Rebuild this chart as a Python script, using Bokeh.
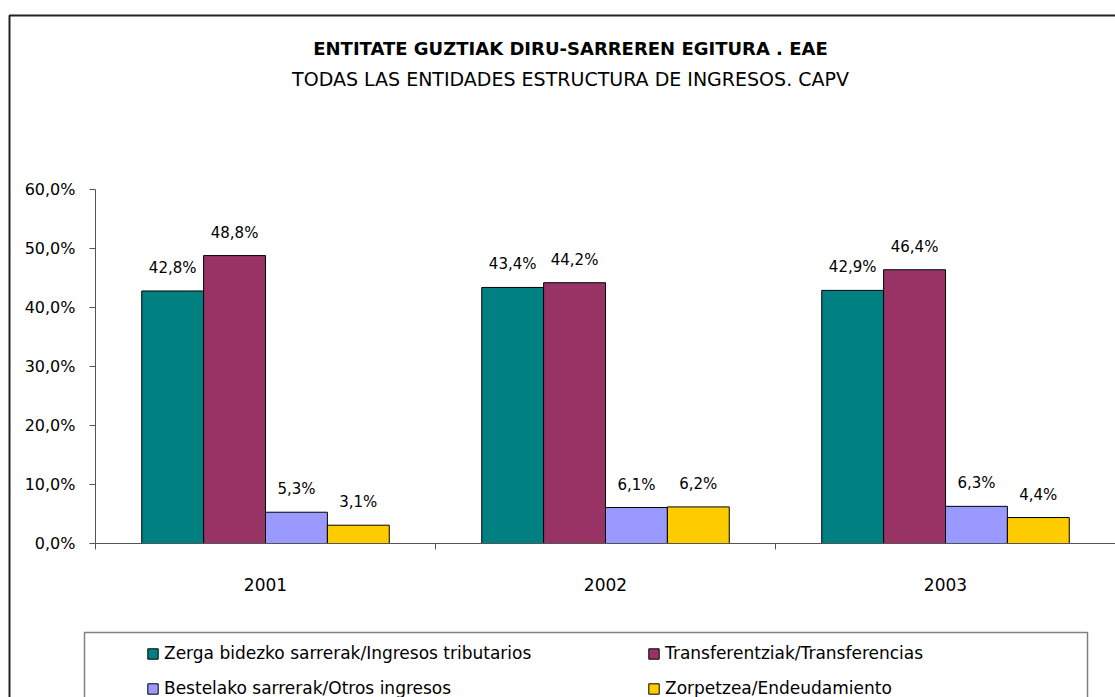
from bokeh.plotting import figure
from bokeh.models import (ColumnDataSource, Range1d, FixedTicker, LinearAxis,
                          Legend, LegendItem, Label, BoxAnnotation)
from bokeh.core.properties import value
from bokeh.embed import file_html
from bokeh.resources import INLINE

# ---- data ----
years = ["2001", "2002", "2003"]
series = ["Zerga bidezko sarrerak/Ingresos tributarios",
          "Transferentziak/Transferencias",
          "Bestelako sarrerak/Otros ingresos",
          "Zorpetzea/Endeudamiento"]
tributarios = [42.8, 43.4, 42.9]
transferencias = [48.8, 44.2, 46.4]
otros = [5.3, 6.1, 6.3]
endeudamiento = [3.1, 6.2, 4.4]
y_ticks = [0, 10, 20, 30, 40, 50, 60]
title_main = "ENTITATE GUZTIAK DIRU-SARREREN EGITURA . EAE"
title_sub = "TODAS LAS ENTIDADES ESTRUCTURA DE INGRESOS. CAPV"

colors = ["#008080", "#993366", "#9999FF", "#FFCC00"]
FONT = "DejaVu Sans"

def fmt(v):
    return f"{v:.1f}%".replace(".", ",")

# ---- layout (pixels) ----
W, H = 1115, 697
PLOT_L, PLOT_R, PLOT_T, PLOT_B = 95, 1115, 189, 543
n = len(years)
ymax = y_ticks[-1]
px_x = (PLOT_R - PLOT_L) / n
px_y = (PLOT_B - PLOT_T) / ymax
x_range = Range1d(-PLOT_L / px_x, (W - PLOT_L) / px_x)
y_range = Range1d(-(H - PLOT_B) / px_y, PLOT_B / px_y)

p = figure(x_range=x_range, y_range=y_range, width=W, height=H,
           output_backend="svg", toolbar_location=None,
           x_axis_location=None, y_axis_location=None,
           min_border=0, min_border_left=0, min_border_right=0,
           min_border_top=0, min_border_bottom=0)
p.outline_line_color = None
p.xgrid.grid_line_color = None
p.ygrid.grid_line_color = None
p.background_fill_color = "white"
p.border_fill_color = "white"

bw = 0.182
offsets = [-1.5 * bw, -0.5 * bw, 0.5 * bw, 1.5 * bw]
all_vals = [tributarios, transferencias, otros, endeudamiento]
renderers = []
for vals, off, col in zip(all_vals, offsets, colors):
    xs = [i + 0.5 + off for i in range(n)]
    src = ColumnDataSource(dict(x=xs, year=years, val=vals, lbl=[fmt(v) for v in vals]))
    r = p.vbar(x="x", top="val", width=bw, source=src,
               fill_color=col, line_color="black", line_width=1)
    renderers.append(r)
    p.text(x="x", y="val", text="lbl", source=src,
           text_align="center", text_baseline="middle", y_offset=-23,
           text_font=value(FONT), text_font_size="15px", text_color="black")

AX = "#555555"
# y axis
ya = LinearAxis(fixed_location=0, bounds=(0, ymax),
                ticker=FixedTicker(ticks=y_ticks, minor_ticks=[]))
ya.major_label_overrides = {t: fmt(t) for t in y_ticks}
ya.major_label_text_font = FONT
ya.major_label_text_font_size = "16px"
ya.major_label_text_color = "black"
ya.axis_line_color = AX
ya.major_tick_line_color = AX
ya.major_tick_out = 6
ya.major_tick_in = 0
ya.minor_tick_line_color = None
ya.major_label_standoff = 14
p.add_layout(ya, "left")

# x axis: labels at category centres, ticks at category boundaries
xa = LinearAxis(fixed_location=0, bounds=(0, n),
                ticker=FixedTicker(ticks=[i + 0.5 for i in range(n)],
                                   minor_ticks=list(range(n + 1))))
xa.major_label_overrides = {i + 0.5: y for i, y in enumerate(years)}
xa.major_label_text_font = FONT
xa.major_label_text_font_size = "17px"
xa.major_label_text_color = "black"
xa.axis_line_color = AX
xa.major_tick_line_color = None
xa.major_tick_out = 0
xa.major_tick_in = 0
xa.minor_tick_line_color = AX
xa.minor_tick_out = 6
xa.minor_tick_in = 0
xa.major_label_standoff = 28
p.add_layout(xa, "below")

# outer frame and legend box (screen units, y measured from bottom)
p.add_layout(BoxAnnotation(left=9, right=W + 20, top=H - 15, bottom=-20,
                           left_units="screen", right_units="screen",
                           top_units="screen", bottom_units="screen",
                           fill_color=None, line_color="#222222", line_alpha=1.0,
                           line_width=2))
p.add_layout(BoxAnnotation(left=84, right=1087, top=H - 632, bottom=-20,
                           left_units="screen", right_units="screen",
                           top_units="screen", bottom_units="screen",
                           fill_color=None, line_color="#808080", line_alpha=1.0,
                           line_width=1.5))

# titles
p.add_layout(Label(x=570, y=H - 48, x_units="screen", y_units="screen", text=title_main,
                   text_align="center", text_baseline="middle", text_font=FONT,
                   text_font_size="18px", text_font_style="bold", text_color="black"))
p.add_layout(Label(x=570, y=H - 78, x_units="screen", y_units="screen", text=title_sub,
                   text_align="center", text_baseline="middle", text_font=FONT,
                   text_font_size="19px", text_color="black"))

legend = Legend(items=[LegendItem(label=s, renderers=[r]) for s, r in zip(series, renderers)],
                location=(146, -1), ncols=2, orientation="horizontal",
                glyph_width=13, glyph_height=13, label_standoff=5, label_width=468,
                label_height=20, spacing=15, padding=0, margin=0, border_line_color=None,
                background_fill_alpha=0, label_text_font=FONT,
                label_text_font_size="17px", label_text_color="black")
p.add_layout(legend, "center")

open("out.html", "w").write(file_html(p, INLINE))
